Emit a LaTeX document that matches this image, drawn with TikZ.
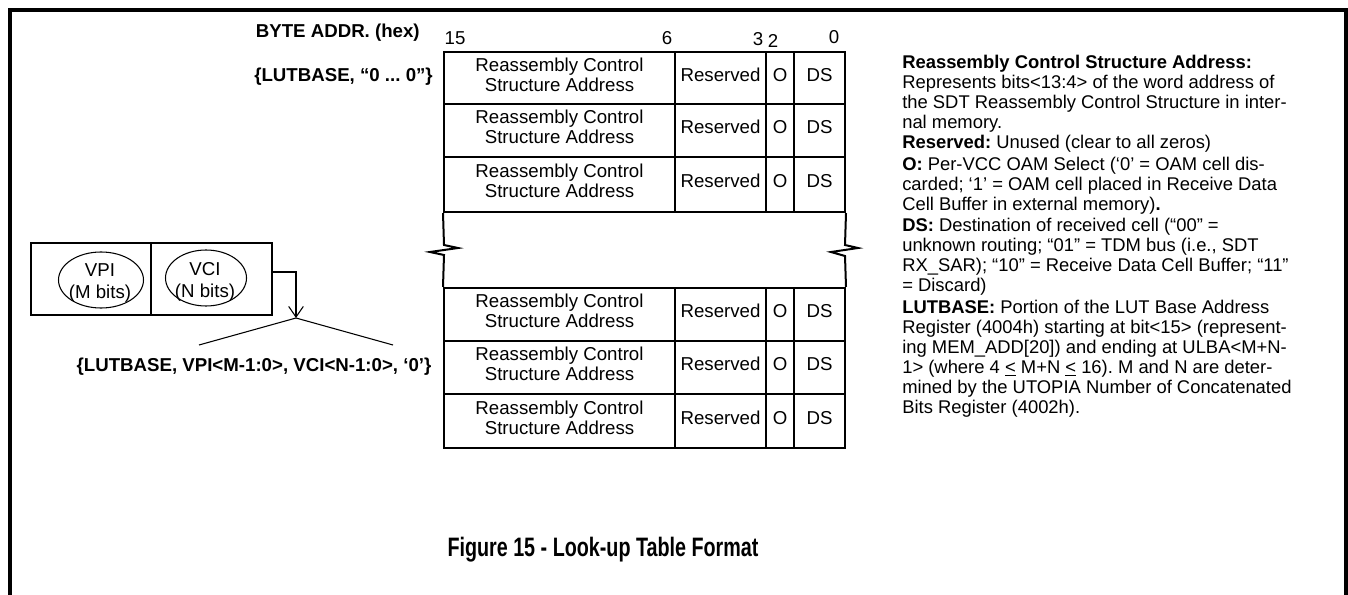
\documentclass[tikz,border=0pt]{standalone}
\usepackage{fontspec}
\setmainfont{Liberation Sans}
\usepackage{graphicx}
\usetikzlibrary{arrows.meta,shapes.geometric,fit}
\frenchspacing
\begin{document}
\begin{tikzpicture}[x=0.75pt,y=-0.75pt,
  every node/.style={font=\fontsize{14}{15}\selectfont\frenchspacing, inner sep=0pt},
  boldtext/.style={font=\fontsize{14}{15}\selectfont\bfseries\frenchspacing},
  desctext/.style={font=\fontsize{13.8}{15}\selectfont\frenchspacing},
  cellbox/.style={draw, line width=1.5pt, inner sep=0pt, align=center},
  framebox/.style={line width=3pt},
  tableline/.style={line width=1.5pt},
  thinline/.style={line width=0.8pt},
  fieldoval/.style={draw, ellipse, line width=0.8pt, inner sep=0pt}
]
\useasboundingbox (0,0) rectangle (1348,595);
% outer frame (open at the bottom)
\draw[framebox] (9.5,600) -- (9.5,10) -- (1346,10) -- (1346,600);

% bit numbers
\node (b15) at (455,38) {15};
\node (b6)  at (667,38) {6};
\node (b3)  at (758,39) {3};
\node (b2)  at (773,41) {2};
\node (b0)  at (834,37) {0};

% left labels
\node[boldtext, anchor=east] (byteaddr) at (420,33) {BYTE ADDR. (hex)};
\node[boldtext, anchor=east] (lutzero) at (433,77) {\{LUTBASE, “0 ... 0”\}};

% table rows
\newcommand{\lutrow}[3]{%
  \node[cellbox, fit={(444,#2)(675,#3)}] (#1a) {};
  \node[cellbox, fit={(675,#2)(766,#3)}] (#1b) {};
  \node[cellbox, fit={(766,#2)(794,#3)}] (#1c) {};
  \node[cellbox, fit={(794,#2)(845,#3)}] (#1d) {};
  \node[align=center, yshift=2.5pt] (#1ta) at (#1a.center) {Reassembly Control\\Structure Address};
  \node[yshift=2.5pt] (#1tb) at (#1b.center) {Reserved};
  \node[yshift=2.5pt] (#1tc) at (#1c.center) {O};
  \node[yshift=2.5pt] (#1td) at (#1d.center) {DS};
}
\lutrow{ra}{52}{104}
\lutrow{rb}{104}{157}
\lutrow{rc}{157}{212}
\lutrow{rd}{288}{341}
\lutrow{re}{341}{394}
\lutrow{rf}{394}{448}

% break region sides with zigzags
\draw[tableline] (rca.south west) -- (444,245) -- (458,248) -- (430,252) -- (444,255) -- (rda.north west);
\draw[tableline] (rcd.south east) -- (845,245) -- (858,248) -- (831,252) -- (845,256) -- (rdd.north east);

% VPI / VCI fields
\node[draw, line width=1.5pt, fit={(31,243)(151,315)}] (vpibox) {};
\node[draw, line width=1.5pt, fit={(151,243)(272,315)}] (vcibox) {};
\node[fieldoval, minimum width=63.75pt, minimum height=42pt] (vpi) at (101,280) {};
\node[fieldoval, minimum width=60.75pt, minimum height=42pt] (vci) at (206,278) {};
\node[align=center, font=\fontsize{14}{17}\selectfont] (vpitext) at (100,283) {VPI\\(M bits)};
\node[align=center, font=\fontsize{14}{17}\selectfont] (vcitext) at (205,282) {VCI\\(N bits)};

\coordinate (fork) at (296,318);
\coordinate (forkL) at (199,345);
\coordinate (forkR) at (393,345);
\draw[thinline, -{Straight Barb[length=8pt,width=11pt,line width=0.8pt]}]
  ([yshift=5.25pt]vcibox.east) -| (fork);
\draw[thinline] (fork) -- (forkL);
\draw[thinline] (fork) -- (forkR);
\node[boldtext] (lutaddr) at (254,367) {\{LUTBASE, VPI<M-1:0>, VCI<N-1:0>, ‘0’\}};

% description
\node[desctext, anchor=north west, align=left] (desc) at (902,55) {%
\textbf{Reassembly Control Structure Address:}\\
Represents bits<13:4> of the word address of\\
the SDT Reassembly Control Structure in inter-\\
nal memory.\\
\textbf{Reserved:} Unused (clear to all zeros)\\[1.2pt]
\textbf{O:} Per-VCC OAM Select (‘0’ = OAM cell dis-\\
carded; ‘1’ = OAM cell placed in Receive Data\\
Cell Buffer in external memory)\textbf{.}\\[1.2pt]
\textbf{DS:} Destination of received cell (“00” =\\
unknown routing; “01” = TDM bus (i.e., SDT\\
RX\_SAR); “10” = Receive Data Cell Buffer; “11”\\
= Discard)\\[1.2pt]
\textbf{LUTBASE:} Portion of the LUT Base Address\\
Register (4004h) starting at bit<15> (represent-\\
ing MEM\_ADD[20]) and ending at ULBA<M+N-\\
1> (where 4 \underline{<} M+N \underline{<} 16). M and N are deter-\\
mined by the UTOPIA Number of Concatenated\\
Bits Register (4002h).};

% caption
\node[font=\fontsize{20}{22}\selectfont\bfseries] (caption) at (603,550)
  {\scalebox{0.74}[1]{Figure 15 - Look-up Table Format}};
\end{tikzpicture}
\end{document}
